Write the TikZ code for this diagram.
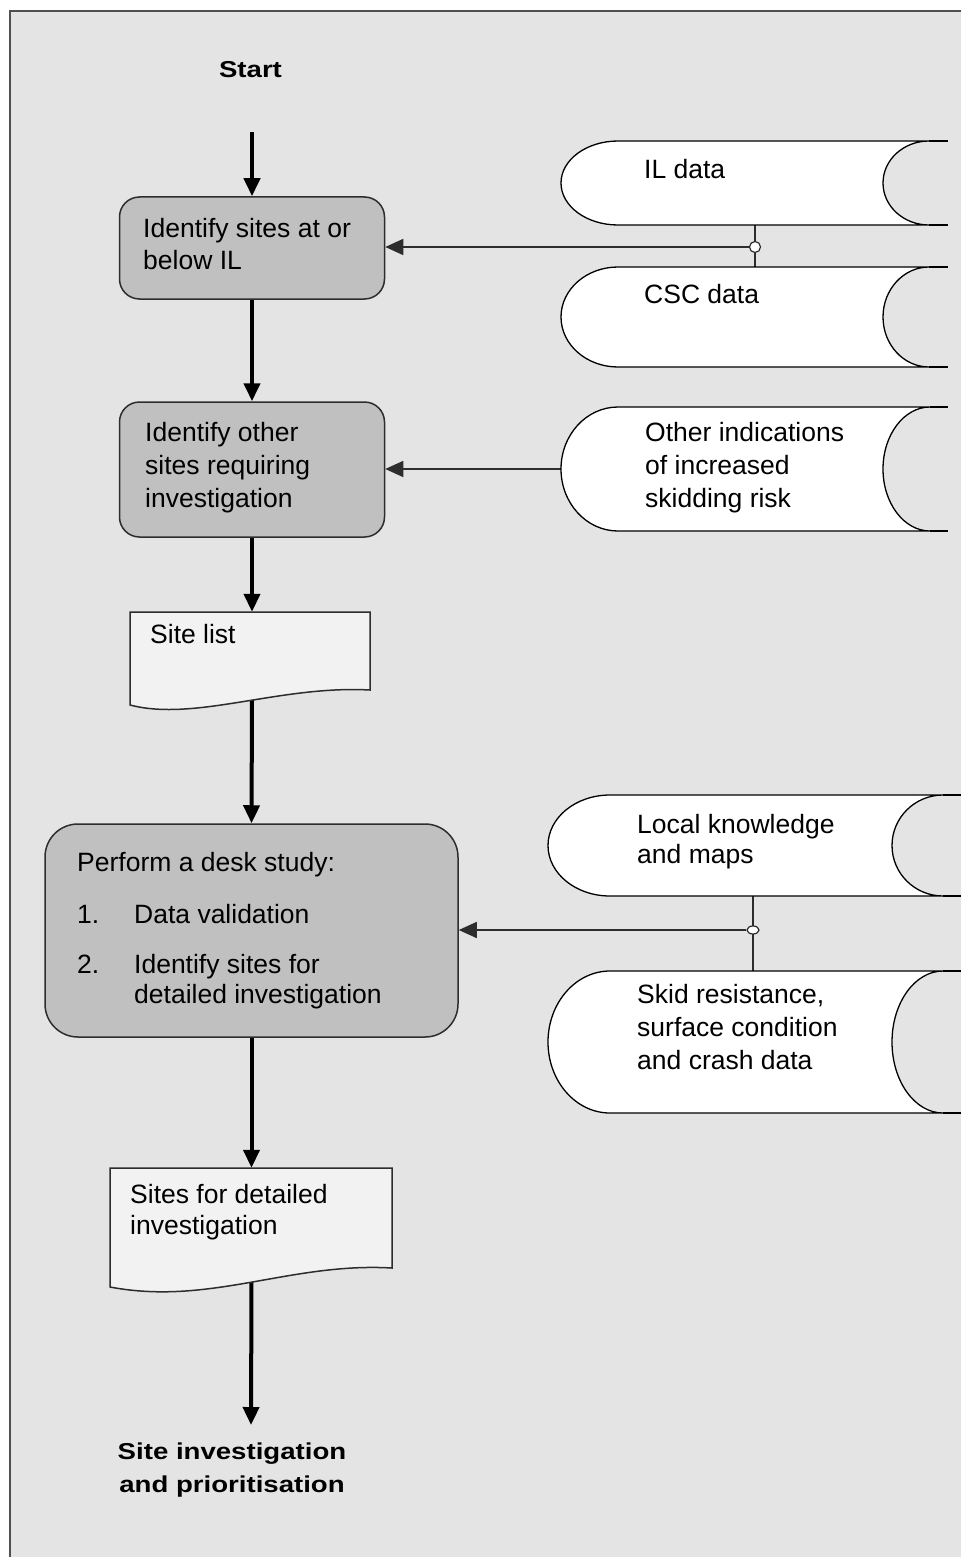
\documentclass[tikz,border=0pt]{standalone}
\usepackage{fontspec}
\setmainfont{Liberation Sans}
\newfontfamily\headfont{Liberation Sans}[FakeStretch=1.2]
\usetikzlibrary{arrows.meta,fit,shapes.geometric}
\definecolor{bgtex}{RGB}{228,228,228}
\definecolor{boxgray}{RGB}{192,192,192}
\definecolor{docfill}{RGB}{242,242,242}
\definecolor{edgegray}{RGB}{45,45,45}
\definecolor{framegray}{RGB}{80,80,80}
\pgfdeclarelayer{back}
\pgfdeclarelayer{conn}
\pgfsetlayers{back,conn,main}
\tikzset{
  procbox/.style={draw=edgegray, line width=1.5pt, fill=boxgray, rounded corners=20pt, inner sep=0pt},
  bodytext/.style={font=\fontsize{26.5}{32}\selectfont, align=left, inner sep=0pt, anchor=north west, text=black},
  headtext/.style={font=\headfont\bfseries\fontsize{23}{33}\selectfont, align=center, inner sep=0pt, text=black},
  mainflow/.style={line width=4pt, draw=black, -{Triangle[length=18pt,width=16pt]}},
  dataflow/.style={draw=edgegray, line width=1.5pt, -{Triangle[length=18pt,width=16pt]}},
  storebox/.style={draw=black, line width=1.3pt, fill=white},
  storeline/.style={draw=black, line width=1.3pt},
  joinline/.style={draw=edgegray, line width=1.5pt},
  docshape/.style={draw=edgegray, line width=1.5pt, fill=docfill},
  junction/.style={draw=edgegray, fill=white, line width=1.2pt, inner sep=0pt},
  anchorbox/.style={inner sep=0pt, draw=none},
  framel/.style={draw=framegray, line width=2pt},
}
% #1 name, #2 xL, #3 top, #4 bottom, #5 left radius, #6 right arc x, #7 right radius, #8 right end
\newcommand\storeshape[8]{%
  \pgfmathsetmacro\sMid{(#3+#4)/2}%
  \pgfmathsetmacro\sKy{0.5523*(#4-#3)/2}%
  \pgfmathsetmacro\sCx{#2+#5}%
  \pgfmathsetmacro\sXi{#6-#7}%
  \pgfmathsetmacro\sKl{0.5523*#5}%
  \pgfmathsetmacro\sKr{0.5523*#7}%
  \path[storebox] (\sCx,#3) -- (#6,#3)
    .. controls (#6-\sKr,#3) and (\sXi,\sMid-\sKy) .. (\sXi,\sMid)
    .. controls (\sXi,\sMid+\sKy) and (#6-\sKr,#4) .. (#6,#4)
    -- (\sCx,#4)
    .. controls (\sCx-\sKl,#4) and (#2,\sMid+\sKy) .. (#2,\sMid)
    .. controls (#2,\sMid-\sKy) and (\sCx-\sKl,#3) .. (\sCx,#3) -- cycle;
  \draw[storeline] (#6,#3) -- (#8,#3) (#6,#4) -- (#8,#4);
  \node[fit={(#2,#3) (#8,#4)}, anchorbox] (#1) {};
}
\begin{document}
\begin{tikzpicture}[x=1pt,y=-1pt]
\useasboundingbox (0,0) rectangle (961,1557);
\begin{pgfonlayer}{back}
  \fill[bgtex] (10,11) rectangle (961,1557);
  \draw[framel] (961,11) -- (10,11) -- (10,1557);
\end{pgfonlayer}

% process boxes
\node[procbox, minimum width=265pt, minimum height=102pt] (box1) at (252,248) {};
\node[procbox, minimum width=265pt, minimum height=135pt] (box2) at (252,469.5) {};
\node[procbox, rounded corners=33pt, minimum width=413pt, minimum height=213pt] (box3) at (251.5,930.5) {};

\node[bodytext] (box1t) at (143,218) {Identify sites at or\\below IL};
\node[bodytext, font=\fontsize{26.5}{33}\selectfont] (box2t) at (145,422) {Identify other\\sites requiring\\investigation};
\node[bodytext, font=\fontsize{26.5}{30}\selectfont] (box3t) at (77,852)
  {Perform a desk study:\\[22pt]
   \makebox[57pt][l]{1.}Data validation\\[20pt]
   \makebox[57pt][l]{2.}Identify sites for\\
   \hspace*{57pt}detailed investigation};

% documents
\draw[docshape] (130,612) -- (370,612) -- (370,690)
  .. controls (280,685) and (195,722) .. (130,705) -- cycle;
\node[fit={(130,612) (370,700)}, anchorbox] (doc1) {};
\node[bodytext] (doc1t) at (150,624) {Site list};

\draw[docshape] (110,1168) -- (392,1168) -- (392,1268)
  .. controls (290,1262) and (210,1306) .. (110,1287) -- cycle;
\node[fit={(110,1168) (392,1280)}, anchorbox] (doc2) {};
\node[bodytext, font=\fontsize{26.5}{31}\selectfont] (doc2t) at (130,1184) {Sites for detailed\\investigation};

% stored data
\storeshape{ILd}{561}{141}{225}{57}{929}{46}{948}
\node[bodytext] (ILt) at (644,159) {IL data};
\storeshape{CSCd}{561}{267}{367}{57}{929}{46}{948}
\node[bodytext] (CSCt) at (644,284) {CSC data};
\storeshape{OTHd}{561}{407}{531}{57}{930}{47}{948}
\node[bodytext, font=\fontsize{26.5}{33}\selectfont] (OTHt) at (645,422) {Other indications\\of increased\\skidding risk};
\storeshape{LOCd}{548}{795}{896}{62}{943}{51}{961}
\node[bodytext, font=\fontsize{26.5}{30}\selectfont] (LOCt) at (637,814) {Local knowledge\\and maps};
\storeshape{SKDd}{548}{971}{1113}{62}{943}{51}{961}
\node[bodytext, font=\fontsize{26.5}{33}\selectfont] (SKDt) at (637,984) {Skid resistance,\\surface condition\\and crash data};

% junctions
\node[junction, circle, minimum size=11pt] (j1) at (755,247) {};
\node[junction, ellipse, minimum width=12pt, minimum height=8pt] (j2) at (753,930) {};

% start / end labels
\node[headtext, anchor=base] (start) at (250.5,78) {Start};
\node[headtext, anchor=north] (final) at (232,1443) {Site investigation\\and prioritisation};
\coordinate (s0) at (252,132);
\coordinate (e0) at (251,1425);

% connectors
\begin{pgfonlayer}{conn}
  \draw[mainflow] (s0) -- (box1.north);
  \draw[mainflow] (box1.south) -- (box2.north);
  \draw[mainflow] (box2.south) -- (box2.south |- doc1.north);
  \draw[mainflow] (box2.south |- doc1.south) -- (box3.north);
  \draw[mainflow] (box3.south) -- (box3.south |- doc2.north);
  \draw[mainflow] (box3.south |- doc2.south) -- (e0);
  \draw[joinline] (j1 |- ILd.south) -- (j1 |- CSCd.north);
  \draw[joinline] (j2 |- LOCd.south) -- (j2 |- SKDd.north);
  \draw[dataflow] (j1.west) -- (box1.east |- j1.west);
  \draw[dataflow] (OTHd.west) -- (box2.east |- OTHd.west);
  \draw[dataflow] (j2.west) -- (box3.east |- j2.west);
\end{pgfonlayer}
\end{tikzpicture}
\end{document}
